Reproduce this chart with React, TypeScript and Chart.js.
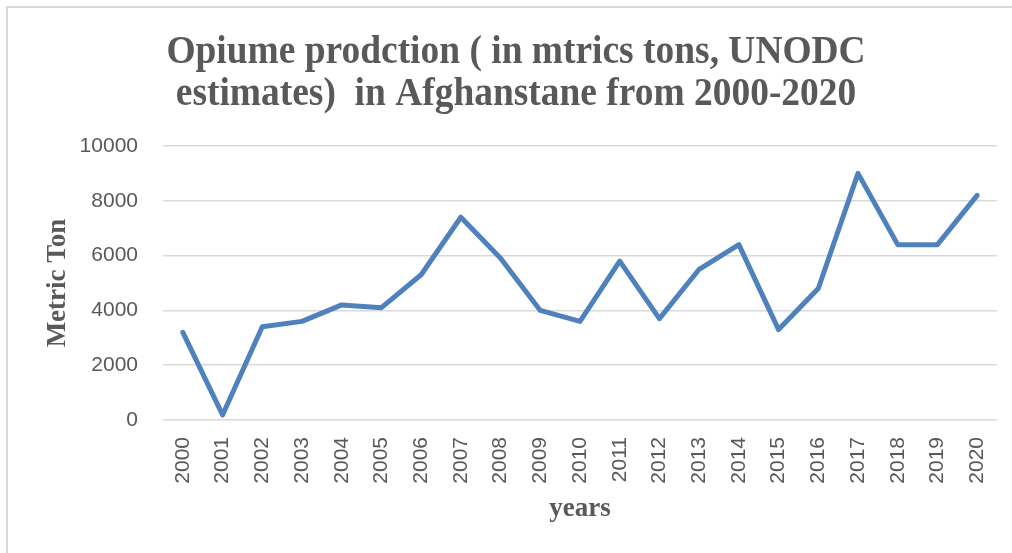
import React, { useEffect, useRef } from "react";
import { Chart, registerables } from "chart.js";

Chart.register(...registerables);

const years = ["2000","2001","2002","2003","2004","2005","2006","2007","2008","2009","2010","2011","2012","2013","2014","2015","2016","2017","2018","2019","2020"];
const production = [3200, 185, 3400, 3600, 4200, 4100, 5300, 7400, 5900, 4000, 3600, 5800, 3700, 5500, 6400, 3300, 4800, 9000, 6400, 6400, 8200];
const yTicks = [0, 2000, 4000, 6000, 8000, 10000];
const titleLines = ["Opiume prodction ( in mtrics tons, UNODC", "estimates)  in Afghanstane from 2000-2020"];
const yTitle = "Metric Ton";
const xTitle = "years";

const W = 1012;
const H = 553;

const titlePlugin = {
  id: "condensedTitle",
  afterDraw(chart: any) {
    const ctx = chart.ctx as CanvasRenderingContext2D;
    ctx.save();
    ctx.fillStyle = "#595959";
    ctx.font = "bold 39px 'Liberation Serif', serif";
    ctx.textAlign = "center";
    ctx.textBaseline = "alphabetic";
    const baselines = [63, 105];
    titleLines.forEach((line, i) => {
      ctx.save();
      ctx.translate(516, baselines[i]);
      ctx.scale(0.96, 1);
      ctx.fillText(line, 0, 0);
      ctx.restore();
    });
    ctx.restore();
  },
};

export default function App() {
  const ref = useRef<HTMLCanvasElement | null>(null);
  useEffect(() => {
    if (!ref.current) return;
    const chart = new Chart(ref.current, {
      type: "line",
      data: {
        labels: years,
        datasets: [
          {
            data: production,
            borderColor: "#4f81bd",
            backgroundColor: "#4f81bd",
            borderWidth: 5,
            pointRadius: 0,
            tension: 0,
            borderJoinStyle: "round",
            borderCapStyle: "round",
          },
        ],
      },
      plugins: [titlePlugin],
      options: {
        responsive: false,
        animation: false,
        layout: { padding: { left: 0, right: 15, top: 146, bottom: 0 } },
        plugins: {
          legend: { display: false },
          tooltip: { enabled: false },
          title: { display: false },
        },
        scales: {
          x: {
            type: "category",
            offset: true,
            grid: { display: false, drawTicks: false },
            border: { display: false },
            ticks: {
              color: "#595959",
              font: { family: "'Liberation Sans', sans-serif", size: 21 },
              minRotation: 90,
              maxRotation: 90,
              autoSkip: false,
              padding: 17,
            },
            title: {
              display: true,
              text: xTitle,
              color: "#595959",
              font: { family: "'Liberation Serif', serif", size: 27, weight: "bold", lineHeight: 1.2 },
              padding: { top: 27.8, bottom: 27.8 },
            },
            afterFit: (s: any) => {
              s.height = 133;
              s.paddingLeft = 0;
              s.paddingRight = 0;
            },
          },
          y: {
            min: 0,
            max: 10000,
            afterBuildTicks: (s: any) => {
              s.ticks = yTicks.map((v) => ({ value: v }));
            },
            grid: { color: "#d9d9d9", lineWidth: 1.5, drawTicks: false },
            border: { display: false },
            ticks: {
              color: "#595959",
              font: { family: "'Liberation Sans', sans-serif", size: 21 },
              padding: 25,
              callback: (v: any) => String(v),
            },
            title: {
              display: true,
              text: yTitle,
              color: "#595959",
              font: { family: "'Liberation Serif', serif", size: 27, weight: "bold", lineHeight: 1.2 },
              padding: { top: 42, bottom: 42 },
            },
            afterFit: (s: any) => {
              s.width = 163;
            },
          },
        },
      },
    });
    return () => chart.destroy();
  }, []);
  return (
    <div>
      <div
        style={{
          position: "fixed",
          left: 6,
          top: 6,
          width: 1020,
          height: 560,
          border: "2px solid #d9d9d9",
          boxSizing: "border-box",
          background: "#fff",
        }}
      />
      <div style={{ position: "fixed", left: 0, top: 0, width: W, height: H }}>
        <canvas ref={ref} width={W} height={H} style={{ display: "block" }} />
      </div>
    </div>
  );
}
